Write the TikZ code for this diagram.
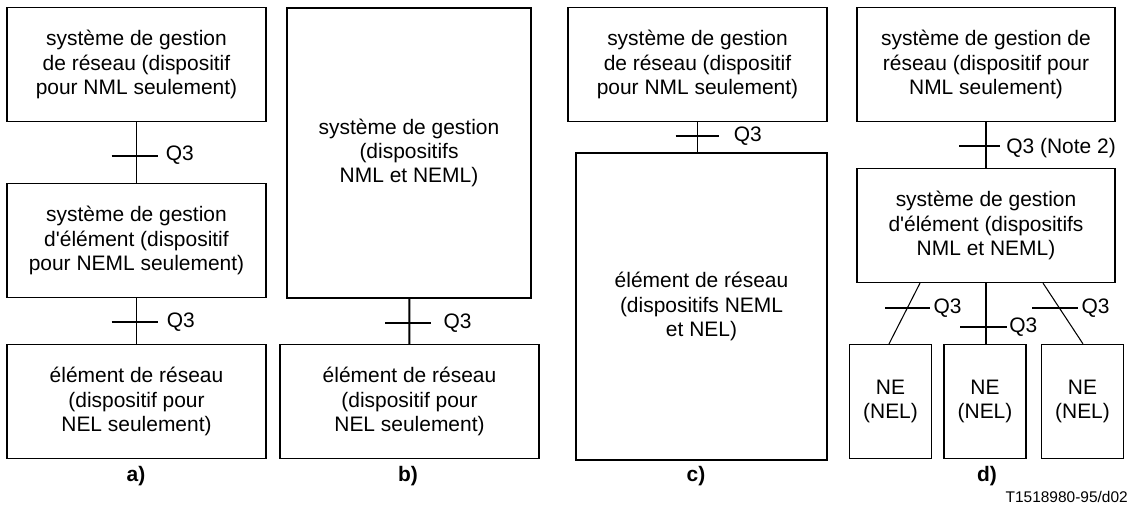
\documentclass[tikz,border=0pt]{standalone}
\usepackage{fontspec}
\newfontfamily\arial{Liberation Sans}
\usetikzlibrary{calc}

\begin{document}
\begin{tikzpicture}[x=0.025cm,y=-0.025cm,
    boks/.style={draw,line width=0.85pt,inner sep=0pt,align=center,
      minimum width=6.475cm,minimum height=2.85cm,
      font=\arial\fontsize{14.9}{17.3}\selectfont},
    ne/.style={boks,minimum width=2.05cm},
    linje/.style={line width=1.4pt},
    skraa/.style={line width=0.75pt},
    qtekst/.style={anchor=west,inner sep=0pt,font=\arial\fontsize{14.9}{17.3}\selectfont},
    deltekst/.style={font=\arial\fontsize{14.9}{17.3}\selectfont\bfseries}]
	\useasboundingbox (0,0) rectangle (1136,506);
	% Del a)
	\node[boks] (a1) at (136.5,64.5) {système de gestion\\de réseau (dispositif\\pour NML seulement)};
	\node[boks] (a2) at (136.5,240.5) {système de gestion\\d'élément (dispositif\\pour NEML seulement)};
	\node[boks] (a3) at (136.5,401.5) {élément de réseau\\(dispositif pour\\NEL seulement)};
	\draw[linje] (a1) -- (a2) coordinate[pos=0.55] (qa1);
	\draw[linje] (a2) -- (a3) coordinate[pos=0.52] (qa2);
	\draw[linje] ($(qa1)+(-25,0)$) -- ($(qa1)+(21,0)$);
	\node[qtekst] (la1) at ($(qa1)+(29,0)$) {Q3};
	\draw[linje] ($(qa2)+(-25,0)$) -- ($(qa2)+(21,0)$);
	\node[qtekst] (la2) at ($(qa2)+(30,0)$) {Q3};
	\node[deltekst] (ta) at (136,476) {a)};
	% Del b)
	\node[boks,minimum width=6.1cm,minimum height=7.25cm] (b1) at (409,153) {système de gestion\\(dispositifs\\NML et NEML)};
	\node[boks] (b2) at (409.5,401.5) {élément de réseau\\(dispositif pour\\NEL seulement)};
	\draw[linje] (b1) -- (b2) coordinate[pos=0.54] (qb);
	\draw[linje] ($(qb)+(-24,0)$) -- ($(qb)+(22,0)$);
	\node[qtekst] (lb) at ($(qb)+(34,0)$) {Q3};
	\node[deltekst] (tb) at (408,476) {b)};
	% Del c)
	\node[boks] (c1) at (697.5,64.5) {système de gestion\\de réseau (dispositif\\pour NML seulement)};
	\node[boks,minimum width=6.275cm,minimum height=7.675cm] (c2) at (701.5,306.5) {élément de réseau\\(dispositifs NEML\\et NEL)};
	\draw[linje] (c1.south) -- (c1.south |- c2.north) coordinate[pos=0.47] (qc);
	\draw[linje] ($(qc)+(-22,0)$) -- ($(qc)+(21,0)$);
	\node[qtekst] (lc) at ($(qc)+(36,0)$) {Q3};
	\node[deltekst] (tc) at (696,476) {c)};
	% Del d)
	\node[boks,minimum width=6.45cm] (d1) at (986,64.5) {système de gestion de\\réseau (dispositif pour\\NML seulement)};
	\node[boks,minimum width=6.45cm] (d2) at (986,225.5) {système de gestion\\d'élément (dispositifs\\NML et NEML)};
	\node[ne] (ne1) at (890.5,401.5) {NE\\(NEL)};
	\node[ne] (ne2) at (985,401.5) {NE\\(NEL)};
	\node[ne] (ne3) at (1082.5,401.5) {NE\\(NEL)};
	\draw[linje] (d1) -- (d2) coordinate[pos=0.53] (qd1);
	\draw[linje] ($(qd1)+(-27,0)$) -- ($(qd1)+(14,0)$);
	\node[qtekst,text depth=0pt] (ld1) at ($(qd1)+(20,0)$) {Q3 (Note 2)};
	% NE-forbindelser
	\draw[skraa] ($(d2.south)+(-66,0)$) -- ($(ne1.north)+(-1.5,0)$) coordinate[pos=0.41] (qd2);
	\draw[linje] (d2.south) -- (d2.south |- ne2.north) coordinate[pos=0.72] (qd3);
	\draw[skraa] ($(d2.south)+(57,0)$) -- ($(ne3.north)+(0.5,0)$) coordinate[pos=0.41] (qd4);
	\draw[linje] ($(qd2)+(-22,0)$) -- ($(qd2)+(23,0)$);
	\node[qtekst] (ld2) at ($(qd2)+(26,0)$) {Q3};
	\draw[linje] ($(qd3)+(-26,0)$) -- ($(qd3)+(21,0)$);
	\node[qtekst] (ld3) at ($(qd3)+(23,0)$) {Q3};
	\draw[linje] ($(qd4)+(-27,0)$) -- ($(qd4)+(19,0)$);
	\node[qtekst] (ld4) at ($(qd4)+(22,0)$) {Q3};
	\node[deltekst] (td) at (987,476) {d)};
	% Referanse
	\node[anchor=east,inner sep=0pt,font=\arial\fontsize{11}{13}\selectfont] (ref) at (1128,497) {T1518980-95/d02};
\end{tikzpicture}
\end{document}
